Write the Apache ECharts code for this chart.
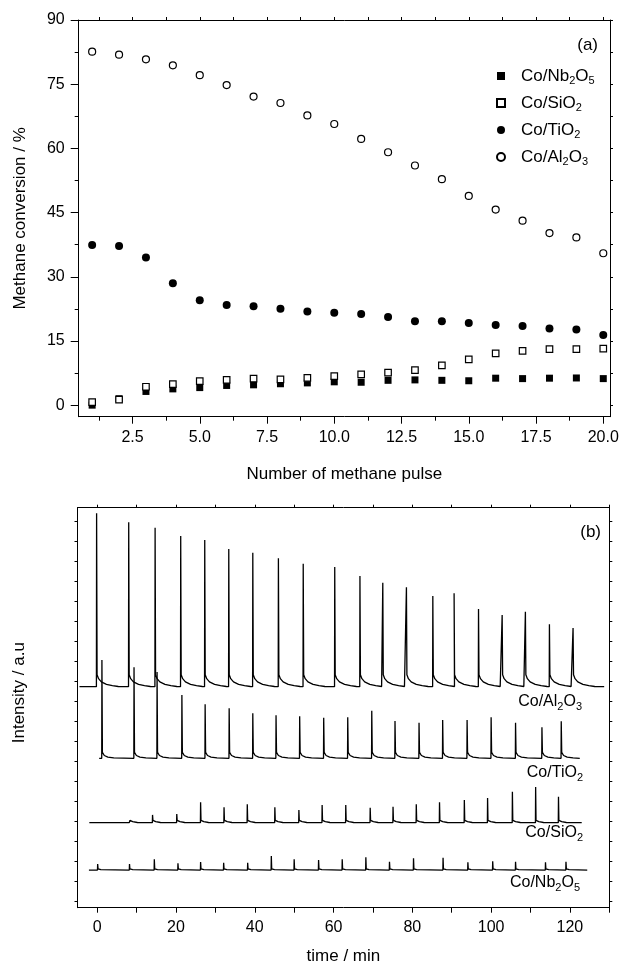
<!DOCTYPE html>
<html><head><meta charset="utf-8">
<script src="https://cdn.jsdelivr.net/npm/echarts@6/dist/echarts.min.js"></script>
<style>html,body{margin:0;padding:0;background:#fff}#c{width:623px;height:968px}</style>
</head><body><div id="c"></div>
<script>
// ---------- Panel (a): methane conversion ----------
const pulses = [1,2,3,4,5,6,7,8,9,10,11,12,13,14,15,16,17,18,19,20];
const nbConv = [0.0,1.5,3.2,3.8,4.1,4.6,4.75,5.0,5.2,5.45,5.35,5.8,5.9,5.8,5.7,6.3,6.2,6.3,6.35,6.2];
const siConv = [0.7,1.3,4.3,4.9,5.6,5.9,6.2,6.0,6.35,6.8,7.2,7.6,8.2,9.3,10.7,12.1,12.7,13.1,13.1,13.2];
const tiConv = [37.4,37.2,34.5,28.5,24.5,23.4,23.1,22.5,21.9,21.6,21.3,20.6,19.6,19.6,19.2,18.7,18.5,17.9,17.7,16.4];
const alConv = [82.6,81.9,80.8,79.4,77.1,74.8,72.1,70.6,67.7,65.7,62.2,59.1,56.0,52.8,48.9,45.7,43.1,40.2,39.2,35.5];
const pulseTicks = [2.5,5.0,7.5,10.0,12.5,15.0,17.5,20.0];
const pulseMinor = [1.25,3.75,6.25,8.75,11.25,13.75,16.25,18.75];
const convTicks = [0,15,30,45,60,75,90];
const convMinor = [7.5,22.5,37.5,52.5,67.5,82.5];

// ---------- Panel (b): pulse traces (time in min, intensity in a.u.) ----------
const alTimes = [-0.15,8.0,14.7,21.2,27.3,33.4,39.5,46.0,52.3,60.3,66.7,72.5,78.5,85.2,90.6,96.8,102.8,108.7,114.8,120.8];
const alTops  = [98.6,96.35,95,92.9,91.9,89.7,88.75,87.35,86,85.2,82.9,81.25,80.1,77.9,78.6,74.7,73.2,74,70.85,69.9];
const alBase = 55.25, alSpan = [-4.5,128.7];
const alTail = [[0.12,3.0],[0.5,2.0],[1.2,1.2],[2.5,0.6],[4.0,0.25],[5.5,0.05]];

const tiTimes = [1.2,9.35,15.2,21.5,27.4,33.5,39.5,45.4,51.4,57.5,63.6,69.7,75.6,81.7,87.7,93.9,100,106.2,112.9,117.8];
const tiTops  = [61.9,60.1,58.9,53.2,50.85,49.85,48.6,48.1,47.85,47.5,47.6,49.25,46.7,46.25,46.9,46.9,47.6,46.25,45.1,46.6];
const tiBase = 37.35, tiSpan = [0.5,122.5];
const tiTail = [[0.12,1.5],[0.6,0.7],[1.5,0.3],[3.0,0.1]];

const siTimes = [8.2,14.05,20.2,26.25,32.2,38.1,45.1,51.2,57.1,63.1,69.3,75.1,81.0,86.9,93.2,99.1,105.4,111.3,117.1];
const siTops  = [21.5,23.2,23.4,26.35,25.1,25.85,25.1,24.4,25.7,25.7,25.0,25.25,25.85,26.35,26.9,27.4,29.0,30.2,27.75];
const siBase = 21.25, siSpan = [-2.0,123.0];
const siTail = [[0.1,0.6],[0.8,0.25],[2.0,0.05]];

const nbTimes = [0.12,8.2,14.5,20.5,26.25,32.1,38.2,44.2,50.0,56.2,62.2,68.2,74.2,80.3,87.8,94.1,100.4,106.2,113.8,119.0];
const nbTops  = [10.9,10.9,12.1,11.1,11.4,11.25,11.25,12.9,12.1,11.9,12.1,12.6,11.5,12.35,12.5,11.35,11.6,11.5,11.35,11.5];
const nbBase = 9.4, nbSpan = [-2.1,124.4];
const nbTail = [[0.1,0.3],[0.8,0.1]];

const timeTicks = [0,10,20,30,40,50,60,70,80,90,100,110,120,130];
const timeLabels = [0,20,40,60,80,100,120];
const intTicks = [1.5,6.5,11.5,16.5,21.5,26.5,31.5,36.5,41.5,46.5,51.5,56.5,61.5,66.5,71.5,76.5,81.5,86.5,91.5,96.5];

const names = ['Co/Nb2O5','Co/SiO2','Co/TiO2','Co/Al2O3'];

// ---------- helpers ----------
const FF = "'Liberation Sans', Arial, sans-serif";
function chem(s){ return s.replace(/(\D+)|(\d+)/g,(m,a,d)=> a ? '{n|'+a+'}' : '{s|'+d+'}'); }
function trace(span, base, times, tops, tail){
  const pts = [[span[0], base]];
  times.forEach((t,i)=>{
    pts.push([t-0.05, base]);
    pts.push([t, tops[i]]);
    tail.forEach(p=>pts.push([t+p[0], base+p[1]]));
  });
  pts.push([span[1], base]);
  return pts;
}
const zip = (xs, ys) => xs.map((x,i)=>[x, ys[i]]);
const black = '#000';
const lineBlack = {show:true, onZero:false, lineStyle:{color:black, width:1}};
const noLine = {show:false, onZero:false};

const richLegend = {
  p:{width:11, fontSize:17, fontFamily:FF, lineHeight:20},
  n:{fontSize:17, fontFamily:FF, color:black, lineHeight:20},
  s:{fontSize:11, fontFamily:FF, color:black, lineHeight:8, verticalAlign:'bottom'}
};
const richLabel = {
  n:{fontSize:16, fontFamily:FF, fill:black, color:black, lineHeight:20},
  s:{fontSize:11, fontFamily:FF, fill:black, color:black, lineHeight:8, verticalAlign:'bottom'}
};

function ax(grid, pos, min, max, tickVals, len, extra){
  return Object.assign({
    type:'value', gridIndex:grid, position:pos, min:min, max:max,
    axisLine: lineBlack,
    axisTick:{show:true, inside:false, length:len, customValues:tickVals, lineStyle:{color:black, width:1}},
    axisLabel:{show:false},
    splitLine:{show:false}, minorTick:{show:false}
  }, extra||{});
}
const lab = (vals, margin, fmt) => ({show:true, customValues:vals, color:black, fontSize:16, fontFamily:FF, margin:margin, formatter:fmt});
const nameStyle = {fontSize:17, fontFamily:FF, color:black};

const chart = echarts.init(document.getElementById('c'), null, {renderer:'canvas'});
const option = {
  animation:false,
  backgroundColor:'#fff',
  textStyle:{fontFamily:FF, color:black},
  grid:[
    {left:78.7, top:20, width:531.3, height:396.7, containLabel:false},
    {left:77.5, top:507.7, width:531.8, height:400, containLabel:false}
  ],
  xAxis:[
    ax(0,'bottom',0.5,20.25,pulseTicks,7,{
      axisLabel:lab(pulseTicks,13,v=>Number(v).toFixed(1)),
      name:'Number of methane pulse', nameLocation:'middle', nameGap:49, nameTextStyle:nameStyle}),
    ax(0,'bottom',0.5,20.25,pulseMinor,4,{axisLine:noLine}),
    ax(0,'top',0.5,20.25,pulseTicks.concat(pulseMinor),3),
    ax(1,'bottom',-5,130,timeTicks,5,{
      axisLabel:lab(timeLabels,12),
      name:'time / min', nameLocation:'middle', nameGap:40, nameTextStyle:nameStyle}),
    ax(1,'top',-5,130,timeTicks,3)
  ],
  yAxis:[
    ax(0,'left',-2.7,90,convTicks,8,{
      axisLabel:lab(convTicks,14),
      name:'Methane conversion / %', nameLocation:'middle', nameGap:50, nameTextStyle:nameStyle}),
    ax(0,'left',-2.7,90,convMinor,4,{axisLine:noLine}),
    ax(0,'right',-2.7,90,convTicks.concat(convMinor),3),
    ax(1,'left',0,100,intTicks,3,{
      name:'Intensity / a.u', nameLocation:'middle', nameGap:50,
      nameTextStyle:Object.assign({padding:[0,0,0,30]}, nameStyle)}),
    ax(1,'right',0,100,intTicks,3)
  ],
  legend:{
    orient:'vertical', left:496, top:66, itemWidth:8, itemHeight:8, itemGap:7, padding:0,
    selectedMode:false,
    data:[
      {name:names[0], icon:'rect'},
      {name:names[1], icon:'rect'},
      {name:names[2], icon:'circle'},
      {name:names[3], icon:'circle'}
    ],
    formatter: n => '{p| }' + chem(n),
    textStyle:{rich:richLegend, fontSize:17, lineHeight:20}
  },
  graphic:[
    {type:'text', x:598, y:45, style:{text:'(a)', align:'right', verticalAlign:'middle', fontSize:17, fontFamily:FF, fill:black}},
    {type:'text', x:601, y:532, style:{text:'(b)', align:'right', verticalAlign:'middle', fontSize:17, fontFamily:FF, fill:black}},
    {type:'text', x:582, y:702, style:{text:chem(names[3]), rich:richLabel, align:'right', verticalAlign:'middle', fill:black}},
    {type:'text', x:583, y:773, style:{text:chem(names[2]), rich:richLabel, align:'right', verticalAlign:'middle', fill:black}},
    {type:'text', x:583, y:833, style:{text:chem(names[1]), rich:richLabel, align:'right', verticalAlign:'middle', fill:black}},
    {type:'text', x:580, y:883, style:{text:chem(names[0]), rich:richLabel, align:'right', verticalAlign:'middle', fill:black}}
  ],
  series:[
    {name:names[0], type:'scatter', xAxisIndex:0, yAxisIndex:0, symbol:'rect', symbolSize:7,
     itemStyle:{color:black, opacity:1}, data:zip(pulses,nbConv)},
    {name:names[1], type:'scatter', xAxisIndex:0, yAxisIndex:0, symbol:'rect', symbolSize:6.5,
     itemStyle:{color:'#fff', borderColor:black, borderWidth:1.2, opacity:1}, data:zip(pulses,siConv)},
    {name:names[2], type:'scatter', xAxisIndex:0, yAxisIndex:0, symbol:'circle', symbolSize:8,
     itemStyle:{color:black, opacity:1}, data:zip(pulses,tiConv)},
    {name:names[3], type:'scatter', xAxisIndex:0, yAxisIndex:0, symbol:'circle', symbolSize:7,
     itemStyle:{color:'#fff', borderColor:black, borderWidth:1.2, opacity:1}, data:zip(pulses,alConv)},
    {type:'line', xAxisIndex:3, yAxisIndex:3, showSymbol:false, symbol:'none', silent:true,
     lineStyle:{color:black, width:1.3}, data:trace(alSpan,alBase,alTimes,alTops,alTail)},
    {type:'line', xAxisIndex:3, yAxisIndex:3, showSymbol:false, symbol:'none', silent:true,
     lineStyle:{color:black, width:1.3}, data:trace(tiSpan,tiBase,tiTimes,tiTops,tiTail)},
    {type:'line', xAxisIndex:3, yAxisIndex:3, showSymbol:false, symbol:'none', silent:true,
     lineStyle:{color:black, width:1.3}, data:trace(siSpan,siBase,siTimes,siTops,siTail)},
    {type:'line', xAxisIndex:3, yAxisIndex:3, showSymbol:false, symbol:'none', silent:true,
     lineStyle:{color:black, width:1.3}, data:trace(nbSpan,nbBase,nbTimes,nbTops,nbTail)}
  ]
};
chart.setOption(option);
</script></body></html>
